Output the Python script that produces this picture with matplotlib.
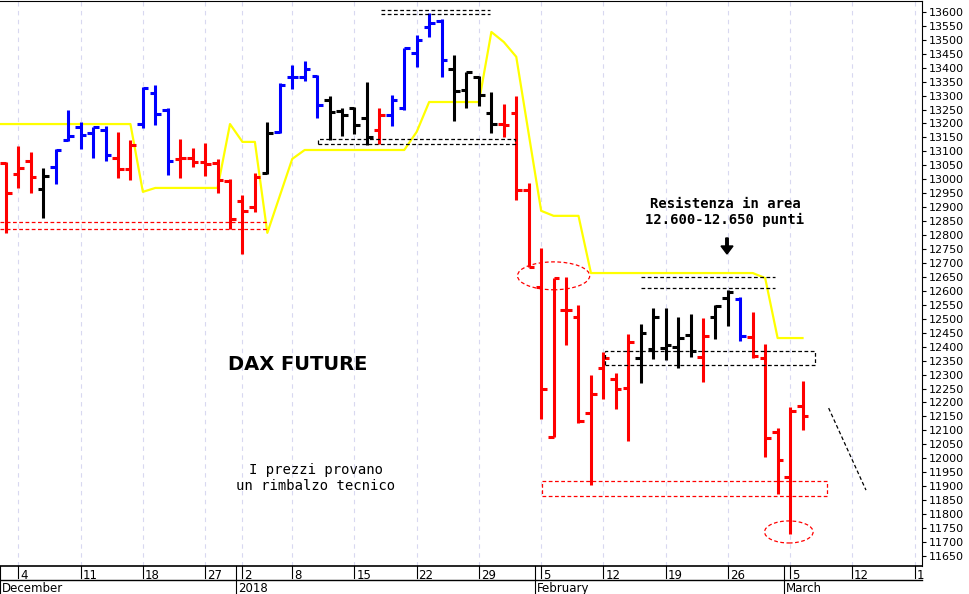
import matplotlib
matplotlib.use("Agg")
import matplotlib.pyplot as plt
from matplotlib.patches import Rectangle, Ellipse
import numpy as np

opens  = [13059,13019,13066,12965,13044,13140,13188,13166,13177,13077,13037,13198,13310,13249,13073,13077,13062,13059,12994,12922,12901,13023,13170,13367,13367,
          13371,13285,13245,13256,13220,13177,13231,13256,13453,13546,13568,13396,13320,13367,13238,13198,13238,12962,12614,12076,12532,12507,12162,12324,12284,
          12252,12360,12392,12395,12399,12442,12363,12507,12575,12571,12435,12360,12094,11933,12188]
highs  = [13062,13120,13098,13041,13109,13249,13206,13188,13191,13170,13141,13331,13338,13256,13145,13112,13130,13073,13001,12944,13023,13206,13345,13410,13424,
          13374,13299,13256,13259,13349,13256,13302,13471,13518,13596,13575,13446,13385,13371,13313,13270,13299,12987,12754,12646,12650,12550,12299,12381,12306,
          12446,12481,12539,12539,12507,12517,12503,12550,12603,12578,12524,12410,12109,12184,12277]
lows   = [12808,12969,12951,12862,12983,13138,13109,13077,13066,13005,12998,13184,13195,13016,13005,13044,13012,12951,12822,12732,12883,13019,13166,13324,13353,
          13220,13141,13155,13163,13123,13127,13191,13249,13403,13510,13367,13209,13256,13263,13166,13152,12926,12686,12141,12076,12406,12127,11904,12213,12177,
          12062,12270,12356,12352,12324,12363,12274,12428,12474,12420,12360,12005,11872,11729,12101]
closes = [12951,13041,13008,13012,13105,13155,13159,13188,13087,13037,13123,13328,13234,13066,13077,13062,13055,12998,12858,12887,13008,13166,13338,13367,13396,
          13267,13242,13231,13195,13152,13231,13285,13471,13500,13561,13428,13317,13385,13302,13198,13195,12962,12686,12248,12646,12532,12134,12231,12360,12248,
          12417,12449,12507,12406,12431,12385,12438,12546,12596,12438,12367,12073,11994,12170,12152]
colors = list("rrrkbbbbbrrbbbrrrrrrrkbbbbkkkkrbbbbbkkkkrrrrrrrrrrrkkkkkrkkbrrrrrk")
cmap = {"r": "#ff0000", "b": "#0000ff", "k": "#000000"}

stop_x = [-0.5,10,11,12,17,18,19,20,21,23,24,32,33,34,38,39,40,41,43,44,46,47,60,61,62,64]
stop_y = [13198,13198,12955,12969,12969,13198,13134,13134,12808,13073,13105,13105,13170,13277,13277,13528,13492,13439,12887,12869,12869,12664,12664,12646,12431,12431]

tick_idx = [1,6,11,16,19,23,28,33,38,43,48,53,58,63,68,73]
tick_lbl = ["4","11","18","27","2","8","15","22","29","5","12","19","26","5","12","1"]
month_idx = [-0.5,18.5,42.5,62.5]
month_lbl = ["December","2018","February","March"]

W, H = 970, 594
fig = plt.figure(figsize=(W/100, H/100), dpi=100)
ax = fig.add_axes([0, 28/H, 922/W, (H-29)/H])
ax.set_xlim(-0.48, 73.6)
ax.set_ylim(11614, 13639)

for t in tick_idx:
    ax.axvline(t, color="#d8d8f0", lw=0.8, ls=(0, (4, 4)), zorder=0)

ax.plot(stop_x, stop_y, color="#ffff00", lw=1.6, zorder=2)

for i in range(len(opens)):
    c = cmap[colors[i]]
    ax.vlines(i, lows[i], highs[i], color=c, lw=2.2, zorder=3)
    ax.hlines(opens[i], i-0.45, i, color=c, lw=2.2, zorder=3)
    ax.hlines(closes[i], i, i+0.45, color=c, lw=2.2, zorder=3)

dash = (0, (3, 2))
def hline(x0, x1, y, col):
    ax.plot([x0, x1], [y, y], color=col, lw=0.9, ls=dash, zorder=4)
hline(30.1, 38.9, 13607, "k"); hline(30.1, 38.9, 13593, "k")
hline(51, 61.8, 12650, "k"); hline(51, 61.8, 12610, "k")
hline(-0.5, 21, 12847, "r"); hline(-0.5, 21, 12822, "r")
ax.add_patch(Rectangle((25.1, 13127), 15.8, 18, fill=False, ec="k", lw=0.9, ls=dash, zorder=4))
ax.add_patch(Rectangle((48.1, 12335), 16.9, 50, fill=False, ec="k", lw=0.9, ls=dash, zorder=4))
ax.add_patch(Rectangle((43.1, 11865), 22.9, 54, fill=False, ec="r", lw=0.9, ls=dash, zorder=4))
ax.add_patch(Ellipse((44.0, 12654), 5.8, 100, fill=False, ec="r", lw=0.9, ls=dash, zorder=4))
ax.add_patch(Ellipse((62.9, 11736), 3.9, 79, fill=False, ec="r", lw=0.9, ls=dash, zorder=4))
ax.plot([66.1, 69.1], [12180, 11886], color="k", lw=0.9, ls=dash)

ax.yaxis.tick_right()
ax.set_yticks(np.arange(11650, 13601, 50))
ax.tick_params(axis="y", labelsize=8, length=3, pad=2)
ax.set_xticks([])
for s in ["left", "bottom"]:
    ax.spines[s].set_visible(False)

tr = ax.get_xaxis_transform()
for t, l in zip(tick_idx, tick_lbl):
    ax.plot([t, t], [0, -12/565], transform=tr, color="k", lw=0.8, clip_on=False)
    ax.text(t+0.15, -3/565, l, transform=tr, fontsize=8.5, ha="left", va="top")
for m, l in zip(month_idx, month_lbl):
    ax.plot([m, m], [0, -28/565], transform=tr, color="k", lw=0.8, clip_on=False)
    ax.text(m+0.15, -16/565, l, transform=tr, fontsize=8.5, ha="left", va="top")
ax.plot([-0.48, 73.6], [0, 0], transform=tr, color="k", lw=1.2, clip_on=False)
ax.plot([-0.48, 73.6], [-14/565, -14/565], transform=tr, color="k", lw=1.0, clip_on=False)

fig.text(298/W, 1-364/H, "DAX FUTURE", fontsize=14, fontweight="bold", ha="center", va="center")
fig.text(316/W, 1-478/H, "I prezzi provano\nun rimbalzo tecnico", fontsize=10, ha="center", va="center",
         family="DejaVu Sans Mono", linespacing=1.1)
fig.text(725/W, 1-212/H, "Resistenza in area\n12.600-12.650 punti", fontsize=10, ha="center", va="center",
         family="DejaVu Sans Mono", fontweight="bold", linespacing=1.2)
fig.patches.append(matplotlib.patches.FancyArrow(727/W, 1-238/H, 0, -16/H, width=2.5/W, head_width=12/W,
                   head_length=8/H, color="k", transform=fig.transFigure, length_includes_head=True))

fig.savefig("out.png", dpi=100)
